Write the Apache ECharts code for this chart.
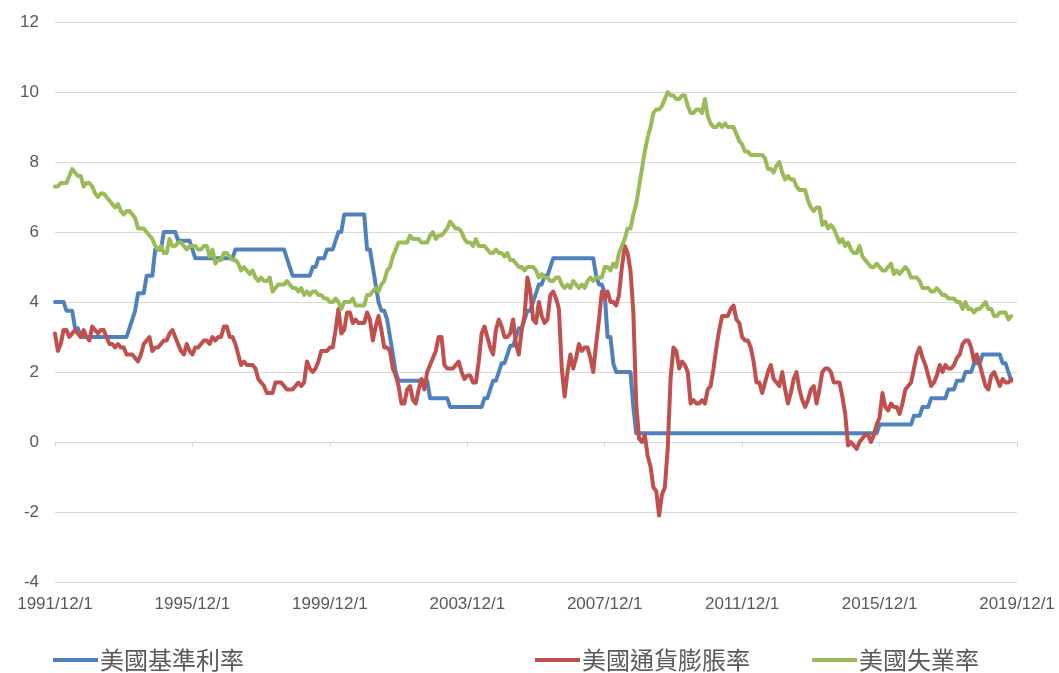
<!DOCTYPE html>
<html>
<head>
<meta charset="utf-8">
<script src="https://cdn.jsdelivr.net/npm/echarts@6/dist/echarts.min.js"></script>
<style>
html,body{margin:0;padding:0;background:#fff;}
#chart{width:1059px;height:673px;}
</style>
</head>
<body>
<div id="chart"></div>
<script>
// Monthly categories: 1991/12/1 ... 2019/12/1
const startYear = 1991, startMonth = 12, monthCount = 337;
const categories = [];
for (let i = 0; i < monthCount; i++) {
  const t = (startYear * 12 + (startMonth - 1)) + i;
  categories.push(Math.floor(t / 12) + '/' + (t % 12 + 1) + '/1');
}
const tickLabels = ['1991/12/1','1995/12/1','1999/12/1','2003/12/1','2007/12/1','2011/12/1','2015/12/1','2019/12/1'];
const yTicks = [-4, -2, 0, 2, 4, 6, 8, 10, 12];

const seriesNames = ['美國基準利率', '美國通貨膨脹率', '美國失業率'];

// 美國基準利率 (1991/12 .. 2019/10)
const fedRate = [
  4.0,
  4.0,4.0,4.0,3.75,3.75,3.75,3.25,3.25,3.0,3.0,3.0,3.0,
  3.0,3.0,3.0,3.0,3.0,3.0,3.0,3.0,3.0,3.0,3.0,3.0,
  3.0,3.25,3.5,3.75,4.25,4.25,4.25,4.75,4.75,4.75,5.5,5.5,
  5.5,6.0,6.0,6.0,6.0,6.0,5.75,5.75,5.75,5.75,5.75,5.5,
  5.25,5.25,5.25,5.25,5.25,5.25,5.25,5.25,5.25,5.25,5.25,5.25,
  5.25,5.25,5.5,5.5,5.5,5.5,5.5,5.5,5.5,5.5,5.5,5.5,
  5.5,5.5,5.5,5.5,5.5,5.5,5.5,5.5,5.25,5.0,4.75,4.75,
  4.75,4.75,4.75,4.75,4.75,5.0,5.0,5.25,5.25,5.25,5.5,5.5,
  5.5,5.75,6.0,6.0,6.5,6.5,6.5,6.5,6.5,6.5,6.5,6.5,
  5.5,5.5,5.0,4.5,4.0,3.75,3.75,3.5,3.0,2.5,2.0,1.75,
  1.75,1.75,1.75,1.75,1.75,1.75,1.75,1.75,1.75,1.75,1.25,1.25,
  1.25,1.25,1.25,1.25,1.25,1.0,1.0,1.0,1.0,1.0,1.0,1.0,
  1.0,1.0,1.0,1.0,1.0,1.25,1.25,1.5,1.75,1.75,2.0,2.25,
  2.25,2.5,2.75,2.75,3.0,3.25,3.25,3.5,3.75,3.75,4.0,4.25,
  4.5,4.5,4.75,4.75,5.0,5.25,5.25,5.25,5.25,5.25,5.25,5.25,
  5.25,5.25,5.25,5.25,5.25,5.25,5.25,5.25,4.75,4.5,4.5,4.25,
  3.0,3.0,2.25,2.0,2.0,2.0,2.0,2.0,2.0,1.0,0.25,0.25,
  0.25,0.25,0.25,0.25,0.25,0.25,0.25,0.25,0.25,0.25,0.25,0.25,
  0.25,0.25,0.25,0.25,0.25,0.25,0.25,0.25,0.25,0.25,0.25,0.25,
  0.25,0.25,0.25,0.25,0.25,0.25,0.25,0.25,0.25,0.25,0.25,0.25,
  0.25,0.25,0.25,0.25,0.25,0.25,0.25,0.25,0.25,0.25,0.25,0.25,
  0.25,0.25,0.25,0.25,0.25,0.25,0.25,0.25,0.25,0.25,0.25,0.25,
  0.25,0.25,0.25,0.25,0.25,0.25,0.25,0.25,0.25,0.25,0.25,0.25,
  0.25,0.25,0.25,0.25,0.25,0.25,0.25,0.25,0.25,0.25,0.25,0.5,
  0.5,0.5,0.5,0.5,0.5,0.5,0.5,0.5,0.5,0.5,0.5,0.75,
  0.75,0.75,1.0,1.0,1.0,1.25,1.25,1.25,1.25,1.25,1.25,1.5,
  1.5,1.5,1.75,1.75,1.75,2.0,2.0,2.0,2.25,2.25,2.25,2.5,
  2.5,2.5,2.5,2.5,2.5,2.5,2.25,2.25,2.0,1.75,
  null,null
];

// 美國通貨膨脹率 (1991/12 .. 2019/10)
const inflation = [
  3.1,
  2.6,2.8,3.2,3.2,3.0,3.1,3.2,3.1,3.0,3.2,3.0,2.9,
  3.3,3.2,3.1,3.2,3.2,3.0,2.8,2.8,2.7,2.8,2.7,2.7,
  2.5,2.5,2.5,2.4,2.3,2.5,2.8,2.9,3.0,2.6,2.7,2.7,
  2.8,2.9,2.9,3.1,3.2,3.0,2.8,2.6,2.5,2.8,2.6,2.5,
  2.7,2.7,2.8,2.9,2.9,2.8,3.0,2.9,3.0,3.0,3.3,3.3,
  3.0,3.0,2.8,2.5,2.2,2.3,2.2,2.2,2.2,2.1,1.8,1.7,
  1.6,1.4,1.4,1.4,1.7,1.7,1.7,1.6,1.5,1.5,1.5,1.6,
  1.7,1.6,1.7,2.3,2.1,2.0,2.1,2.3,2.6,2.6,2.6,2.7,
  2.7,3.2,3.8,3.1,3.2,3.7,3.7,3.4,3.5,3.4,3.4,3.4,
  3.7,3.5,2.9,3.3,3.6,3.2,2.7,2.7,2.6,2.1,1.9,1.6,
  1.1,1.1,1.5,1.6,1.2,1.1,1.5,1.8,1.5,2.0,2.2,2.4,
  2.6,3.0,3.0,2.2,2.1,2.1,2.1,2.2,2.3,2.0,1.8,1.9,
  1.9,1.7,1.7,2.3,3.1,3.3,3.0,2.7,2.5,3.2,3.5,3.3,
  3.0,3.0,3.1,3.5,2.8,2.5,3.2,3.6,4.7,4.3,3.5,3.4,
  4.0,3.6,3.4,3.5,4.2,4.3,4.1,3.8,2.1,1.3,2.0,2.5,
  2.1,2.4,2.8,2.6,2.7,2.7,2.4,2.0,2.8,3.5,4.3,4.1,
  4.3,4.0,4.0,3.9,4.2,5.0,5.6,5.4,4.9,3.7,1.1,0.1,
  0.0,0.2,-0.4,-0.7,-1.3,-1.4,-2.1,-1.5,-1.3,-0.2,1.8,2.7,
  2.6,2.1,2.3,2.2,2.0,1.1,1.2,1.1,1.1,1.2,1.1,1.5,
  1.6,2.1,2.7,3.2,3.6,3.6,3.6,3.8,3.9,3.5,3.4,3.0,
  2.9,2.9,2.7,2.3,1.7,1.7,1.4,1.7,2.0,2.2,1.8,1.7,
  1.6,2.0,1.5,1.1,1.4,1.8,2.0,1.5,1.2,1.0,1.2,1.5,
  1.6,1.1,1.5,2.0,2.1,2.1,2.0,1.7,1.7,1.7,1.3,0.8,
  -0.1,0.0,-0.1,-0.2,0.0,0.1,0.2,0.2,0.0,0.2,0.5,0.7,
  1.4,1.0,0.9,1.1,1.0,1.0,0.8,1.1,1.5,1.6,1.7,2.1,
  2.5,2.7,2.4,2.2,1.9,1.6,1.7,1.9,2.2,2.0,2.2,2.1,
  2.1,2.2,2.4,2.5,2.8,2.9,2.9,2.7,2.3,2.5,2.2,1.9,
  1.6,1.5,1.9,2.0,1.8,1.6,1.8,1.7,1.7,1.8,
  null,null
];

// 美國失業率 (1991/12 .. 2019/10)
const unemployment = [
  7.3,
  7.3,7.4,7.4,7.4,7.6,7.8,7.7,7.6,7.6,7.3,7.4,7.4,
  7.3,7.1,7.0,7.1,7.1,7.0,6.9,6.8,6.7,6.8,6.6,6.5,
  6.6,6.6,6.5,6.4,6.1,6.1,6.1,6.0,5.9,5.8,5.6,5.5,
  5.6,5.4,5.4,5.8,5.6,5.6,5.7,5.7,5.6,5.5,5.6,5.6,
  5.6,5.5,5.5,5.6,5.6,5.3,5.5,5.1,5.2,5.2,5.4,5.4,
  5.3,5.2,5.2,5.1,4.9,5.0,4.9,4.8,4.9,4.7,4.6,4.7,
  4.6,4.6,4.7,4.3,4.4,4.5,4.5,4.5,4.6,4.5,4.4,4.4,
  4.3,4.4,4.2,4.3,4.2,4.3,4.3,4.2,4.2,4.1,4.1,4.0,
  4.0,4.1,4.0,3.8,4.0,4.0,4.0,4.1,3.9,3.9,3.9,3.9,
  4.2,4.2,4.3,4.4,4.3,4.5,4.6,4.9,5.0,5.3,5.5,5.7,
  5.7,5.7,5.7,5.9,5.8,5.8,5.8,5.7,5.7,5.7,5.9,6.0,
  5.8,5.9,5.9,6.0,6.1,6.3,6.2,6.1,6.1,6.0,5.8,5.7,
  5.7,5.6,5.8,5.6,5.6,5.6,5.5,5.4,5.4,5.5,5.4,5.4,
  5.3,5.4,5.2,5.2,5.1,5.0,5.0,4.9,5.0,5.0,5.0,4.9,
  4.7,4.8,4.7,4.7,4.6,4.6,4.7,4.7,4.5,4.4,4.5,4.4,
  4.6,4.5,4.4,4.5,4.4,4.6,4.7,4.6,4.7,4.7,4.7,5.0,
  5.0,4.9,5.1,5.0,5.4,5.6,5.8,6.1,6.1,6.5,6.8,7.3,
  7.8,8.3,8.7,9.0,9.4,9.5,9.5,9.6,9.8,10.0,9.9,9.9,
  9.8,9.8,9.9,9.9,9.6,9.4,9.4,9.5,9.5,9.4,9.8,9.3,
  9.1,9.0,9.0,9.1,9.0,9.1,9.0,9.0,9.0,8.8,8.6,8.5,
  8.3,8.3,8.2,8.2,8.2,8.2,8.2,8.1,7.8,7.8,7.7,7.9,
  8.0,7.7,7.5,7.6,7.5,7.5,7.3,7.2,7.2,7.2,6.9,6.7,
  6.6,6.7,6.7,6.2,6.3,6.1,6.2,6.1,5.9,5.7,5.8,5.6,
  5.7,5.5,5.4,5.4,5.6,5.3,5.2,5.1,5.0,5.0,5.1,5.0,
  4.9,4.9,5.0,5.1,4.8,4.9,4.8,4.9,5.0,4.9,4.7,4.7,
  4.7,4.6,4.4,4.4,4.4,4.3,4.3,4.4,4.3,4.2,4.2,4.1,
  4.1,4.1,4.0,4.0,3.8,4.0,3.8,3.8,3.7,3.8,3.8,3.9,
  4.0,3.8,3.8,3.6,3.6,3.7,3.7,3.7,3.5,3.6,
  null,null
];

const colors = ['#4F81BD', '#C0504D', '#9BBB59'];
const seriesData = [fedRate, inflation, unemployment];

const labelFont = '"Liberation Sans", Arial, sans-serif';
const cjkFont = '"Noto Sans CJK TC", "Noto Sans CJK SC", sans-serif';
const gray = '#595959';
const gridGray = '#D9D9D9';

const chart = echarts.init(document.getElementById('chart'), null, { renderer: 'canvas' });

const legendLefts = [48, 530, 807];

chart.setOption({
  animation: false,
  backgroundColor: '#ffffff',
  color: colors,
  grid: { left: 55, right: 42, top: 22, bottom: 91 },
  legend: seriesNames.map((name, i) => ({
    data: [name],
    left: legendLefts[i],
    top: 643,
    icon: 'rect',
    itemWidth: 45,
    itemHeight: 4,
    itemGap: 0,
    textStyle: { fontFamily: cjkFont, fontSize: 24, color: gray, padding: [0, 0, 0, -3] }
  })),
  xAxis: {
    type: 'category',
    data: categories,
    boundaryGap: false,
    axisLine: { show: true, lineStyle: { color: gridGray, width: 1 } },
    axisTick: {
      show: true,
      length: 5,
      lineStyle: { color: gridGray },
      interval: (idx, val) => tickLabels.indexOf(val) >= 0
    },
    axisLabel: {
      interval: (idx, val) => tickLabels.indexOf(val) >= 0,
      color: gray,
      fontFamily: labelFont,
      fontSize: 17,
      margin: 14,
      showMinLabel: true,
      showMaxLabel: true
    },
    splitLine: { show: false }
  },
  yAxis: {
    type: 'value',
    min: yTicks[0],
    max: yTicks[yTicks.length - 1],
    interval: 2,
    axisLine: { show: false },
    axisTick: { show: false },
    axisLabel: { color: gray, fontFamily: labelFont, fontSize: 17, margin: 16 },
    splitLine: { show: true, lineStyle: { color: gridGray, width: 1 } }
  },
  series: seriesNames.map((name, i) => ({
    name: name,
    type: 'line',
    data: seriesData[i],
    showSymbol: false,
    symbol: 'none',
    smooth: false,
    connectNulls: false,
    lineStyle: { width: 4, color: colors[i], join: 'round', cap: 'round' },
    itemStyle: { color: colors[i] },
    z: 2 + i
  }))
});
</script>
</body>
</html>
